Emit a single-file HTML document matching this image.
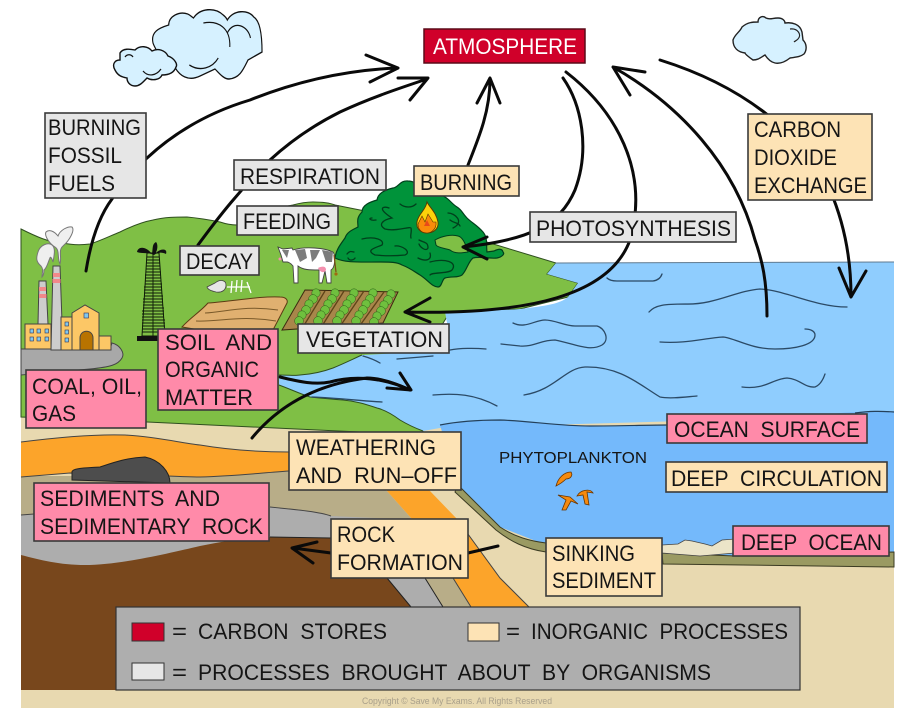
<!DOCTYPE html>
<html><head><meta charset="utf-8"><title>Carbon cycle</title>
<style>
html,body{margin:0;padding:0;background:#fff;}
svg{display:block;}
text{font-family:"Liberation Sans",sans-serif;font-size:22px;fill:#151515;white-space:pre;}
.b{stroke:#3a3a3a;stroke-width:1.6;}
.gr{fill:#e6e6e6}.tn{fill:#fde3b5}.pk{fill:#ff8aa9}
.ar{fill:none;stroke:#0a0a0a;stroke-width:3;stroke-linecap:round;stroke-linejoin:round;}
.w{fill:none;stroke:#2b4a66;stroke-width:1.3;stroke-linecap:round;}
.t{fill:none;stroke:#00401c;stroke-width:1.3;stroke-linecap:round;}
</style></head><body>
<svg width="917" height="726" viewBox="0 0 917 726" xmlns="http://www.w3.org/2000/svg">
<defs>
<g id="row"><circle cx="0" cy="0" r="4.2"/><circle cx="-3" cy="6" r="4.4"/><circle cx="-7" cy="11" r="4.2"/><circle cx="-10" cy="17" r="4.4"/><circle cx="-14" cy="22" r="4.2"/><circle cx="-17" cy="28" r="4.4"/></g>
</defs>
<rect x="21" y="405" width="873" height="303" fill="#e8d9b0"/>

<!-- land -->
<path d="M21,229 C35,236 50,243 63,243 C72,245 82,245 90,244 C100,241 110,236 120,232 C132,226 142,222 153,220 C165,217 176,217 187,217 C198,218 210,220 220,222 C226,224 232,225 237,225 C255,218 275,208 293,205 C300,203 306,202 313,202 C322,202 330,203 335,205 L370,212 L480,240 L556,263 L547,274 L578,283 L568,297 L520,309 L450,312 L420,360 L423,432 L360,432 L147,422 L21,417 Z" fill="#7fbf45" stroke="#2f4f1f" stroke-width="1"/>

<!-- ocean light -->
<path d="M556,263 L894,262 L894,415 L440,428 L423,431 C415,428 405,423 400,420 C392,414 385,410 377,408 C365,404 355,401 343,400 C330,399 320,398 310,397 C298,393 290,389 279,385 L279,375 C290,375 295,376 300,375 C315,374 325,371 333,368 C345,363 353,359 362,355 L420,352 L447,323 L445,312 C470,310 500,311 520,309 C545,306 560,304 568,297 L578,283 L547,274 Z" fill="#8fcdfe"/>
<path d="M556,263 L894,262" fill="none" stroke="#5f7a90" stroke-width="1"/>
<path d="M279,375 C290,375 295,376 300,375 C315,374 325,371 333,368 C345,363 353,359 362,355 M279,385 C290,389 298,393 310,397 C320,398 330,399 343,400 C355,401 365,404 377,408 C385,410 392,414 400,420 C405,423 415,428 423,431" fill="none" stroke="#2f4f1f" stroke-width="1"/>

<!-- deep ocean -->
<path d="M440,425 C460,421 480,420 500,420 C530,421 560,426 590,426 C620,426 650,425 667,425 L815,416 C840,412 870,411 894,412 L894,556 L735,556 L663,556 L546,545 L500,527 L458,485 Z" fill="#74b9fb"/>
<path d="M440,425 C460,421 480,420 500,420 C530,421 560,426 590,426 C620,426 650,425 667,425 M855,413 C870,411 880,411 894,412" fill="none" stroke="#24405a" stroke-width="1.2"/>

<!-- strata -->
<path d="M21,476 L170,476 L289,471 L360,480 L387,491 L412,519 L453,578 L471,607 L116,607 L21,607 Z" fill="#b8ad88"/>
<path d="M21,515 L270,507 C300,510 320,512 331,516 L400,519 L425,578 L443,607 L21,607 Z" fill="#adadad"/>
<path d="M21,555 C40,560 60,565 85,565 C120,565 170,553 200,546 C225,541 250,537 270,537 L331,538 L360,555 L387,578 L411,607 L411,690 L21,690 Z" fill="#78471c"/>
<path d="M387,578 L411,607 M425,578 L443,607 M270,537 L331,538" stroke="#222" fill="none" stroke-width="1"/>
<path d="M21,442 C60,437 95,434 125,435 C160,437 180,443 200,445 C230,450 260,452 289,452 L360,452 L387,491 L412,519 L453,578 L471,607 L529,607 L500,578 L457,519 L430,491 L400,452 L360,470 L289,471 C260,473 235,476 200,477 C170,477 130,473 70,473 L21,477 Z" fill="#fca42a"/>
<path d="M21,442 C60,437 95,434 125,435 C160,437 180,443 200,445 C230,450 260,452 289,452 M21,477 L70,473 C130,473 170,477 200,477 C235,476 260,473 289,471 M412,519 L453,578 L471,607 M529,607 L500,578 L457,519 M21,515 L34,514 M270,507 C300,510 320,512 331,516" fill="none" stroke="#444" stroke-width="1"/>
<path d="M72,472 C72,468 85,468 100,467 C112,463 125,458 145,457 C160,460 170,472 170,483 L72,480 Z" fill="#4d4d4d" stroke="#222" stroke-width="1"/>

<!-- olive band -->
<path d="M458,485 L500,527 C515,537 530,541 546,543 L546,552 C525,549 510,541 496,530 L455,492 Z" fill="#9a9a62" stroke="#3b3b22" stroke-width="1"/>
<path d="M662,553 L735,556 L894,552 L894,567 L663,564 Z" fill="#9a9a62" stroke="#3b3b22" stroke-width="1"/>
<path d="M662,545 L678,544 L685,540 L692,541 L705,544 L712,546 L722,540 L735,539 L735,553 L700,556 L662,553 Z" fill="#ebe4c8" stroke="#444" stroke-width=".8"/>

<!-- water lines -->
<path class="w" d="M607,278 Q610,281 617,281 L653,281 Q660,280 662,274"/>
<path class="w" d="M649,312 C655,305 665,304 685,304 C715,305 735,291 760,289 C785,290 815,307 847,307"/>
<path class="w" d="M513,323 C525,329 535,320 545,320 C555,320 565,326 575,326 L597,326 C605,328 610,340 602,345 C590,352 575,344 555,340 C540,340 535,347 520,346 L501,344"/>
<path class="w" d="M660,342 C685,344 705,338 723,337 C735,338 750,349 775,349 C795,349 815,345 815,335 C815,331 810,329 805,329"/>
<path class="w" d="M524,395 C555,390 565,368 585,367 C620,366 640,385 660,397 C670,399 685,397 697,396"/>
<path class="w" d="M742,387 C765,390 772,379 787,378 C800,379 805,388 815,387 C820,385 823,380 825,374"/>
<path class="w" d="M433,395 C455,393 475,394 497,406"/>
<path class="w" d="M450,350 C460,348 475,348 486,349"/>
<path class="w" d="M312,397 C340,398 360,401 382,402"/>
<path class="w" d="M363,356 C370,358 375,360 380,363 M397,359 C410,358 420,357 433,356"/>

<!-- tree -->
<path d="M408,181 C400,180 398,188 393,188 C385,190 378,193 377,200 C370,202 362,205 362,212 C356,218 358,222 358,227 C352,230 347,232 345,238 C340,245 336,250 335,258 C345,263 360,262 380,262 C390,262 397,262 402,265 C410,268 415,272 420,275 C428,280 432,287 438,287 C442,287 442,279 445,278 C452,276 458,278 462,275 C467,270 468,262 473,258 C480,256 490,259 497,258 C502,257 505,254 503,252 C502,248 498,249 494,251 L487,252 C486,245 488,238 483,232 C477,225 472,223 467,218 C462,213 462,210 457,207 C452,204 450,200 445,197 C438,192 430,190 423,187 C418,184 413,181 408,181 Z" fill="#00933a" stroke="#00401c" stroke-width="1.2"/>
<path d="M435,240 C442,236 452,234 458,236 C463,237 466,245 468,252 C462,253 455,254 450,250 C445,248 438,248 436,245 Z" fill="#7fbf45" stroke="#00401c" stroke-width="1"/>
<path class="t" d="M400,204 C405,208 412,208 416,204 M389,208 C385,206 375,207 392,218 C382,220 378,225 385,229 C395,232 410,226 411,228 C412,232 410,235 411,238"/>
<path class="t" d="M372,218 C368,218 370,221 376,220 M362,239 C375,236 385,240 382,245 C375,248 365,250 375,255 C385,256 395,256 405,255 C412,252 402,245 395,246"/>
<path class="t" d="M348,258 C350,262 355,259 355,258 M347,254 C350,250 352,252 354,252"/>
<path class="t" d="M419,240 C425,243 428,242 428,248 C426,252 420,247 419,244 M430,253 C432,260 426,262 418,258"/>
<path class="t" d="M448,213 C455,213 465,222 453,228 M450,220 C455,224 458,222 460,226"/>
<path class="t" d="M430,262 C445,258 458,262 452,270 C448,274 432,272 430,275"/>
<!-- fire -->
<path d="M427,202 C430,208 436,212 438,222 C439,230 432,233 427,233 C420,233 416,228 417,222 C418,214 426,210 427,202 Z" fill="#fcd20a" stroke="#5a3500" stroke-width=".9"/>
<path d="M418,224 L422,216 L425,222 L428,214 L433,222 L436,222 C437,230 430,233 427,233 C422,233 418,230 418,224 Z" fill="#f98b0a" stroke="#5a3500" stroke-width=".6"/>
<path d="M424,226 L427,220 L430,226 Z" fill="#e84a1a"/>

<!-- factory -->
<path d="M21,349 L110,349 L112,343 C120,345 125,353 122,358 C118,365 110,367 90,369 L21,375 Z" fill="#a8a8a8" stroke="#444" stroke-width="1"/>
<path d="M39,281 L46,281 L48,324 L38,324 Z" fill="#cdcdcd" stroke="#444" stroke-width="1"/>
<path d="M39,287 h7 v4 h-7z M39,294 h7.5 v4 h-7.5z" fill="#f2888a"/>
<path d="M53,266 L60,266 L63,350 L51,350 Z" fill="#cdcdcd" stroke="#444" stroke-width="1"/>
<path d="M53,273 h7 v4 h-7z M52.500,279 h8 v4 h-8z" fill="#f2888a"/>
<rect x="25" y="324" width="26" height="25" fill="#fcc766" stroke="#444"/>
<rect x="61" y="317" width="12" height="33" fill="#fcc766" stroke="#444"/>
<path d="M72,313 L85,305 L99,313 V350 H72 Z" fill="#fcc766" stroke="#444"/>
<rect x="99" y="336" width="12" height="14" fill="#fcc766" stroke="#444"/>
<path d="M80,350 V338 C80,329 93,329 93,338 V350 Z" fill="#b87300" stroke="#444"/>
<g fill="#7fc8f0" stroke="#335" stroke-width=".6"><rect x="30" y="329" width="3.500" height="4"/><rect x="37" y="329" width="3.500" height="4"/><rect x="45" y="329" width="3.500" height="4"/><rect x="30" y="337" width="3.500" height="4"/><rect x="37" y="337" width="3.500" height="4"/><rect x="45" y="337" width="3.500" height="4"/><rect x="65" y="322" width="3.500" height="4"/><rect x="65" y="330" width="3.500" height="4"/><rect x="65" y="338" width="3.500" height="4"/><rect x="84" y="313" width="4.500" height="5"/></g>
<path d="M42,277 C42,272 44,270 41,266 C36,262 36,258 38,252 C40,245 48,242 52,245 C56,248 54,256 53,262 C52,258 50,256 50,258 C48,262 47,268 44,270 C44,273 43,276 42,277 Z" fill="#efefef" stroke="#777" stroke-width="1"/>
<path d="M60,264 C57,258 60,250 55,247 C50,244 44,236 46,232 C49,229 54,231 58,236 C60,230 68,226 72,227 C75,230 70,240 63,246 C58,250 62,258 60,264 Z" fill="#efefef" stroke="#777" stroke-width="1"/>

<!-- derrick -->
<path d="M147,253 L159,253 L165,336 L142,336 Z" fill="#7fbf45" stroke="#0d1a07" stroke-width="1"/>
<path stroke="#0d1a07" stroke-width=".9" fill="none" d="M153,253 V336 M147,257h12 M147,260h12 M146,263h14 M146,266h14 M146,269h14 M146,272h15 M145,275h16 M145,278h16 M145,281h16 M145,284h17 M144,287h18 M144,290h18 M144,293h18 M144,296h19 M143,299h20 M143,302h20 M143,305h20 M143,308h21 M142,311h22 M142,314h22 M142,317h22 M142,320h23 M142,323h23 M142,326h23 M142,329h23 M142,332h23"/>
<rect x="137" y="336" width="26" height="5" fill="#111"/>
<path d="M137,252 C138,246 146,246 152,254 C153,248 152,244 156,242 C158,244 158,250 155,254 C160,248 168,248 166,254 C162,252 158,252 154,255 C148,252 142,254 137,252 Z" fill="#111"/>

<!-- soil -->
<path d="M182,327 C190,318 200,312 208,303 C235,301 260,296 280,297 C286,297 288,300 287,303 L273,330 L200,330 Z" fill="#e0b070" stroke="#5c3b14" stroke-width="1"/>
<path d="M205,313 C225,312 245,305 278,310 M196,321 C220,322 240,315 276,321" fill="none" stroke="#7a5a2a" stroke-width="1"/>
<!-- plot -->
<path d="M305,290 L398,292 L383,323 L282,330 Z" fill="#a8864a" stroke="#3b2a10" stroke-width="1"/>
<g stroke="#5e4318" stroke-width="1.300"><path d="M325,291 L303,327 M344,291 L322,326 M364,291 L341,325 M384,292 L361,324"/></g>
<g fill="#6fc03e" stroke="#2c5e18" stroke-width=".5">
<use href="#row" x="316" y="293"/><use href="#row" x="335" y="293"/><use href="#row" x="354" y="293"/><use href="#row" x="373" y="293"/><use href="#row" x="391" y="294"/>
</g>

<!-- cow -->
<path d="M293,250 C305,246 325,248 333,252 C336,256 335,268 331,270 L331,283 L327,283 L325,271 L322,283 L319,283 L319,270 C310,270 303,270 298,266 L298,283 L294,283 L293,266 C290,262 287,262 287,262 L283,262 L281,255 L278,247 L283,249 L292,248 Z" fill="#fff" stroke="#444" stroke-width=".9"/>
<path d="M295,250 L305,249 L307,258 L300,262 Z M310,250 L320,250 L316,258 L312,262 Z M322,250 L333,252 L332,262 L326,262 Z M282,250 L289,250 L287,258 Z" fill="#7c7c7c"/>
<path d="M318,268 C322,266 326,266 326,270 C324,274 320,272 318,268 Z" fill="#f48fae"/>
<path d="M334,255 L336,272" stroke="#7a4a10" stroke-width="1.2" fill="none"/>
<circle cx="336" cy="274" r="1.6" fill="#a06a10"/>
<circle cx="280" cy="259" r="1.5" fill="#f48fae"/>

<!-- mouse and bones -->
<path d="M207,287 L215,283 C220,279 226,280 226,285 C226,290 222,293 216,292 C212,291 208,290 207,287 Z" fill="#e6e6e6" stroke="#444" stroke-width=".8"/>
<path d="M227,287 L250,287 M232,281 L231,293 M237,280 L236,292 M242,280 L241,292 M247,282 L251,293" stroke="#fff" stroke-width="1.300" fill="none"/>

<!-- clouds -->
<g transform="translate(153 0) scale(.826 1) translate(-153 0)">
<path d="M153,43 C150,32 160,28 172,25 C172,16 185,11 195,14 C198,15 200,17 202,18 C210,8 228,7 238,15 C241,17 242,18 243,20 C250,10 268,9 275,17 C285,22 285,45 285,52 L268,60 C262,70 258,78 245,79 C238,79 232,72 228,69 L210,76 C195,82 185,75 180,68 C178,64 175,62 175,62 L165,64 C158,50 155,48 153,43 Z" fill="#d6f1ff" stroke="#111" stroke-width="1.400"/>
<path d="M214,23 C232,20 247,28 246,47 M243,33 C250,20 268,25 271,38 M197,65 C210,72 225,68 232,58" fill="none" stroke="#111" stroke-width="1.300"/>
</g>
<path d="M120,53 C123,48 130,49 135,50 C140,45 148,46 152,51 C158,48 165,50 168,56 C174,58 178,64 176,67 C174,73 168,75 162,75 C160,80 152,81 147,78 C143,82 140,86 135,86 C130,86 127,82 127,78 C122,77 118,76 115,70 C112,65 114,60 120,60 Z" fill="#d6f1ff" stroke="#111" stroke-width="1.400"/>
<path d="M125,57 C127,54 131,54 133,57 M143,71 C148,77 156,76 161,69" fill="none" stroke="#111" stroke-width="1.200"/>
<path d="M733,40 C735,34 740,32 742,27 C748,22 753,22 758,22 C758,17 763,15 766,18 C770,20 772,18 778,18 C783,18 785,21 785,23 C792,22 800,24 802,32 L803,40 C807,44 807,50 804,54 C800,57 796,57 790,58 C785,62 780,64 775,63 C770,62 767,58 765,55 C760,58 758,60 753,60 C750,58 745,54 745,53 C738,52 733,48 733,40 Z" fill="#d6f1ff" stroke="#222" stroke-width="1.400"/>
<path d="M790,29 C798,28 802,35 798,39 C796,41 795,41 794,42" fill="none" stroke="#222" stroke-width="1.200"/>

<!-- arrows -->
<path class="ar" d="M86,271 C91,240 100,215 112,199 C122,182 135,170 147,158 C175,132 210,112 250,100 C300,80 350,70 397,68 M366,55 L398,68 L370,82"/>
<path class="ar" d="M198,245 C220,215 240,190 270,160 C295,137 318,123 340,112 C370,98 400,88 427,79 M398,78 L428,78 L410,100"/>
<path class="ar" d="M468,165 C480,135 490,110 490,79 M477,103 L490,78 L500,103"/>
<path class="ar" d="M563,78 C582,105 590,150 575,190 C560,225 530,240 463,247 M487,237 L463,247 L487,259"/>
<path class="ar" d="M566,72 C615,110 650,170 630,240 C610,295 530,315 405,312 M430,298 L405,312 L430,322"/>
<path class="ar" d="M660,60 C740,85 800,130 830,190 C845,225 851,260 851,296 M839,268 L851,297 L866,271"/>
<path class="ar" d="M767,316 C767,280 762,260 755,240 C735,165 680,105 613,67 M645,72 L613,67 L630,95"/>
<path class="ar" d="M280,377 C300,382 315,385 330,382 C355,375 385,378 410,390 M400,373 L411,390 L387,388"/>
<path class="ar" d="M252,438 C275,410 310,385 367,378 C380,378 395,383 410,390"/>
<path class="ar" d="M498,546 L468,553 M331,553 L293,548 M317,542 L292,548 L313,563"/>

<!-- gray boxes -->
<rect class="b gr" x="45" y="113" width="101" height="85"/>
<text x="48" y="135" textLength="93" lengthAdjust="spacingAndGlyphs">BURNING</text>
<text x="48" y="163" textLength="74" lengthAdjust="spacingAndGlyphs">FOSSIL</text>
<text x="48" y="191" textLength="67" lengthAdjust="spacingAndGlyphs">FUELS</text>
<rect class="b gr" x="234" y="160" width="152" height="30"/>
<text x="240" y="184" textLength="140" lengthAdjust="spacingAndGlyphs">RESPIRATION</text>
<rect class="b gr" x="237" y="206" width="101" height="29"/>
<text x="243" y="229" textLength="88" lengthAdjust="spacingAndGlyphs">FEEDING</text>
<rect class="b gr" x="180" y="246" width="79" height="29"/>
<text x="186" y="269" textLength="67" lengthAdjust="spacingAndGlyphs">DECAY</text>
<rect class="b gr" x="298" y="324" width="151" height="29"/>
<text x="306" y="347" textLength="137" lengthAdjust="spacingAndGlyphs">VEGETATION</text>
<rect class="b gr" x="530" y="212" width="206" height="30"/>
<text x="536" y="236" textLength="195" lengthAdjust="spacingAndGlyphs">PHOTOSYNTHESIS</text>

<!-- tan boxes -->
<rect class="b tn" x="414" y="166" width="105" height="30"/>
<text x="420" y="190" textLength="92" lengthAdjust="spacingAndGlyphs">BURNING</text>
<rect class="b tn" x="748" y="114" width="124" height="86"/>
<text x="754" y="137" textLength="87" lengthAdjust="spacingAndGlyphs">CARBON</text>
<text x="754" y="165" textLength="83" lengthAdjust="spacingAndGlyphs">DIOXIDE</text>
<text x="754" y="193" textLength="113" lengthAdjust="spacingAndGlyphs">EXCHANGE</text>
<rect class="b tn" x="289" y="432" width="172" height="58"/>
<text x="296" y="455" textLength="140" lengthAdjust="spacingAndGlyphs">WEATHERING</text>
<text x="296" y="483" textLength="161" lengthAdjust="spacingAndGlyphs">AND  RUN–OFF</text>
<rect class="b tn" x="331" y="519" width="137" height="59"/>
<text x="337" y="542" textLength="58" lengthAdjust="spacingAndGlyphs">ROCK</text>
<text x="337" y="570" textLength="126" lengthAdjust="spacingAndGlyphs">FORMATION</text>
<rect class="b tn" x="546" y="538" width="116" height="58"/>
<text x="552" y="561" textLength="83" lengthAdjust="spacingAndGlyphs">SINKING</text>
<text x="552" y="588" textLength="104" lengthAdjust="spacingAndGlyphs">SEDIMENT</text>
<rect class="b tn" x="666" y="462" width="221" height="30"/>
<text x="671" y="486" textLength="211" lengthAdjust="spacingAndGlyphs">DEEP  CIRCULATION</text>

<!-- pink boxes -->
<rect class="b pk" x="26" y="370" width="120" height="58"/>
<text x="32" y="394" textLength="110" lengthAdjust="spacingAndGlyphs">COAL, OIL,</text>
<text x="32" y="421" textLength="44" lengthAdjust="spacingAndGlyphs">GAS</text>
<rect class="b pk" x="158" y="329" width="120" height="81"/>
<text x="165" y="350" textLength="107" lengthAdjust="spacingAndGlyphs">SOIL  AND</text>
<text x="165" y="377" textLength="94" lengthAdjust="spacingAndGlyphs">ORGANIC</text>
<text x="165" y="405" textLength="88" lengthAdjust="spacingAndGlyphs">MATTER</text>
<rect class="b pk" x="34" y="483" width="235" height="58"/>
<text x="40" y="506" textLength="180" lengthAdjust="spacingAndGlyphs">SEDIMENTS  AND</text>
<text x="40" y="534" textLength="223" lengthAdjust="spacingAndGlyphs">SEDIMENTARY  ROCK</text>
<rect class="b pk" x="667" y="414" width="200" height="29"/>
<text x="674" y="437" textLength="186" lengthAdjust="spacingAndGlyphs">OCEAN  SURFACE</text>
<rect class="b pk" x="733" y="526" width="156" height="30"/>
<text x="741" y="550" textLength="141" lengthAdjust="spacingAndGlyphs">DEEP  OCEAN</text>

<!-- atmosphere -->
<rect x="424" y="29" width="161" height="34" fill="#d0002a" stroke="#5a0a18" stroke-width="1.500"/>
<text x="433" y="54" textLength="144" lengthAdjust="spacingAndGlyphs" style="fill:#fff">ATMOSPHERE</text>

<!-- phytoplankton -->
<text x="499" y="463" textLength="148" lengthAdjust="spacingAndGlyphs" style="font-size:16px">PHYTOPLANKTON</text>
<g fill="#f58a0f" stroke="#6a3500" stroke-width=".8">
<path d="M556,486 C558,478 564,472 571,472 C573,475 571,479 566,479 C563,482 560,484 556,486 Z"/>
<path d="M558,495 L570,497 L578,504 L571,501 L566,510 L562,510 L566,500 Z"/>
<path d="M577,496 C580,490 590,488 593,493 L587,492 L589,505 L585,504 L583,495 Z"/>
</g>

<!-- legend -->
<rect x="116" y="607" width="684" height="83" fill="#aeaeae" stroke="#333" stroke-width="1.200"/>
<rect x="132" y="623" width="32" height="18" fill="#d0002a" stroke="#333"/>
<rect x="468" y="623" width="31" height="18" fill="#fde3b5" stroke="#333"/>
<rect x="132" y="663" width="32" height="17" fill="#e6e6e6" stroke="#333"/>
<text x="172" y="639" textLength="15" lengthAdjust="spacingAndGlyphs">=</text>
<text x="198" y="639" textLength="189" lengthAdjust="spacingAndGlyphs">CARBON  STORES</text>
<text x="506" y="639" textLength="14" lengthAdjust="spacingAndGlyphs">=</text>
<text x="531" y="639" textLength="257" lengthAdjust="spacingAndGlyphs">INORGANIC  PROCESSES</text>
<text x="172" y="680" textLength="15" lengthAdjust="spacingAndGlyphs">=</text>
<text x="198" y="680" textLength="513" lengthAdjust="spacingAndGlyphs">PROCESSES  BROUGHT  ABOUT  BY  ORGANISMS</text>
<text x="362" y="704" textLength="190" lengthAdjust="spacingAndGlyphs" style="font-size:9.5px;fill:#a89f8a">Copyright © Save My Exams. All Rights Reserved</text>
</svg>
</body></html>
